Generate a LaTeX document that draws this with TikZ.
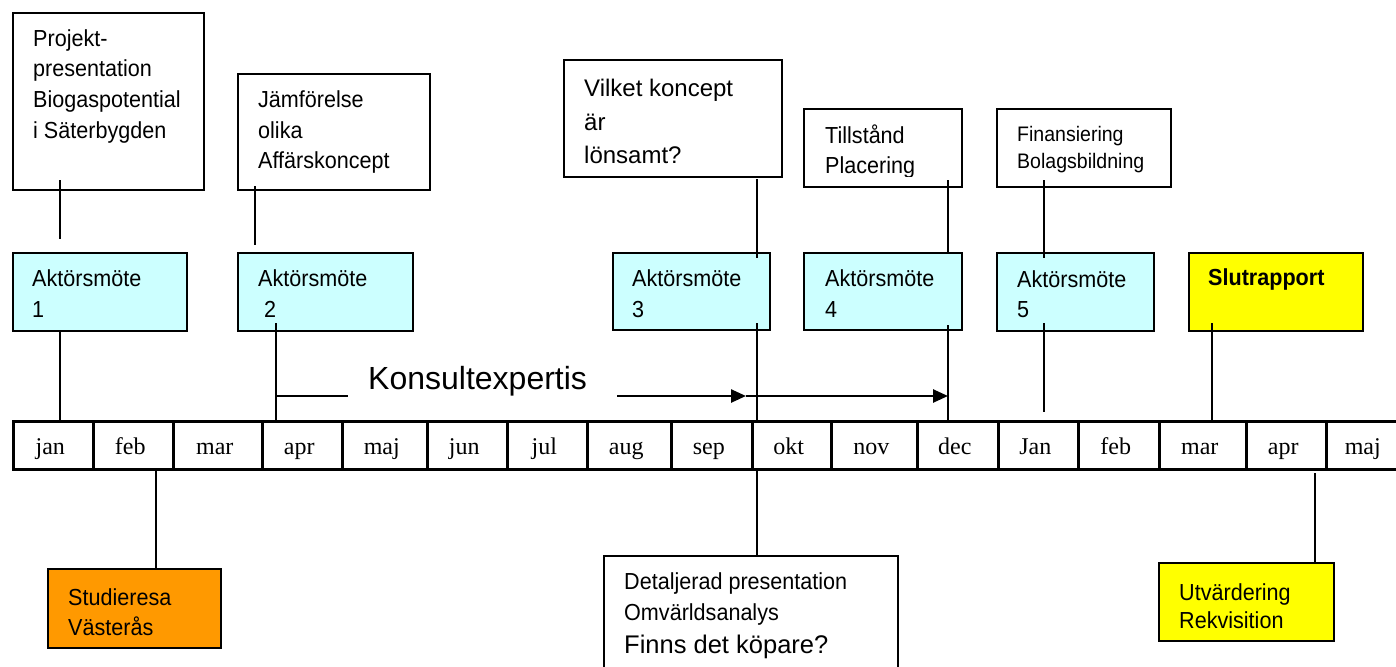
\documentclass[tikz,border=0pt]{standalone}
\usepackage{fontspec}
\usetikzlibrary{arrows.meta}
\newfontfamily\narrowsans[FakeStretch=0.93]{Liberation Sans}
\newfontfamily\plainsans{Liberation Sans}
\newfontfamily\rowserif{Liberation Serif}
\definecolor{meetcyan}{HTML}{CCFFFF}
\definecolor{triporange}{HTML}{FF9900}
\definecolor{reportyellow}{HTML}{FFFF00}

\begin{document}
\begin{tikzpicture}[x=1pt,y=-1pt,
  frame/.style={draw, line width=2pt, rectangle, inner sep=0pt, anchor=north west, fill=white},
  meet/.style={frame, fill=meetcyan},
  trip/.style={frame, fill=triporange},
  report/.style={frame, fill=reportyellow},
  lbl/.style={inner sep=0pt, anchor=base west, font=\narrowsans\fontsize{23.2}{28}\selectfont},
  lblsmall/.style={lbl, font=\narrowsans\fontsize{21}{26}\selectfont},
  lblbold/.style={lbl, font=\narrowsans\bfseries\fontsize{23.2}{28}\selectfont},
  lblbig/.style={inner sep=0pt, anchor=base west, font=\plainsans\fontsize{24}{30}\selectfont},
  lblq/.style={inner sep=0pt, anchor=base west, font=\plainsans\fontsize{25.5}{30}\selectfont},
  lblhuge/.style={inner sep=0pt, anchor=base west, font=\plainsans\fontsize{32}{38}\selectfont},
  cell/.style={draw, line width=2.5pt, rectangle, inner sep=0pt, anchor=north west,
    minimum height=48pt, text height=18pt, text depth=0pt,
    font=\rowserif\fontsize{24}{28}\selectfont},
  link/.style={line width=2pt},
  flow/.style={line width=2.5pt, -{Triangle[length=15pt,width=13pt]}},
]
\useasboundingbox (0,0) rectangle (1396,666);
\clip (0,0) rectangle (1396,666);

% ---- month row ----
\foreach \lab/\a/\b [count=\i] in {jan/12/92, feb/92/172, mar/172/261, apr/261/341,
    maj/341/426, jun/426/506, jul/506/586, aug/586/670, sep/670/751, okt/751/830,
    nov/830/916, dec/916/997, Jan/997/1077, feb/1077/1158, mar/1158/1245,
    apr/1245/1325, maj/1325/1404}{
  \pgfmathsetmacro\w{\b-\a}
  \node[cell, minimum width=\w pt] (m\i) at (\a,420) {\lab\kern6pt};
}

% ---- upper row: topics ----
\node[frame, minimum width=191pt, minimum height=177pt] (p1) at (12,12) {};
\node[lbl] (p1a) at (33,47) {Projekt-};
\node[lbl] (p1b) at (33,77) {presentation};
\node[lbl] (p1c) at (33,108) {Biogaspotential};
\node[lbl] (p1d) at (33,138) {i Säterbygden};

\node[frame, minimum width=192pt, minimum height=116pt] (p2) at (237,73) {};
\node[lbl] (p2a) at (258,107) {Jämförelse};
\node[lbl] (p2b) at (258,138) {olika};
\node[lbl] (p2c) at (258,168) {Affärskoncept};

\node[frame, minimum width=218pt, minimum height=117pt] (p3) at (563,59) {};
\node[lblbig] (p3a) at (584,97) {Vilket koncept};
\node[lblbig] (p3b) at (584,130) {är};
\node[lblbig] (p3c) at (584,163) {lönsamt?};

\node[frame, minimum width=158pt, minimum height=78pt] (p4) at (803,108) {};
\begin{scope}
  \clip (803,108) rectangle (961,176);
  \node[lbl] (p4a) at (825,143) {Tillstånd};
  \node[lbl] (p4b) at (825,173) {Placering};
\end{scope}

\node[frame, minimum width=174pt, minimum height=78pt] (p5) at (996,108) {};
\node[lblsmall] (p5a) at (1017,142) {Finansiering};
\node[lblsmall] (p5b) at (1017,168) {Bolagsbildning};

% ---- meetings ----
\node[meet, minimum width=174pt, minimum height=78pt] (a1) at (12,252) {};
\node[lbl] (a1a) at (32,286) {Aktörsmöte};
\node[lbl] (a1b) at (32,317) {1};

\node[meet, minimum width=175pt, minimum height=78pt] (a2) at (237,252) {};
\node[lbl] (a2a) at (258,286) {Aktörsmöte};
\node[lbl] (a2b) at (264,317) {2};

\node[meet, minimum width=157pt, minimum height=77pt] (a3) at (612,252) {};
\node[lbl] (a3a) at (632,286) {Aktörsmöte};
\node[lbl] (a3b) at (632,317) {3};

\node[meet, minimum width=158pt, minimum height=77pt] (a4) at (803,252) {};
\node[lbl] (a4a) at (825,286) {Aktörsmöte};
\node[lbl] (a4b) at (825,317) {4};

\node[meet, minimum width=157pt, minimum height=78pt] (a5) at (996,252) {};
\node[lbl] (a5a) at (1017,287) {Aktörsmöte};
\node[lbl] (a5b) at (1017,317) {5};

\node[report, minimum width=174pt, minimum height=78pt] (sr) at (1188,252) {};
\node[lblbold] (sra) at (1208,285) {Slutrapport};

% ---- lower row ----
\node[trip, minimum width=173pt, minimum height=79pt] (st) at (47,568) {};
\node[lbl] (sta) at (68,605) {Studieresa};
\node[lbl] (stb) at (68,635) {Västerås};

\node[frame, minimum width=294pt, minimum height=130pt] (de) at (603,555) {};
\node[lbl] (dea) at (624,589) {Detaljerad presentation};
\node[lbl] (deb) at (624,620) {Omvärldsanalys};
\node[lblq] (dec) at (624,653) {Finns det köpare?};

\node[report, minimum width=175pt, minimum height=78pt] (ut) at (1158,562) {};
\node[lbl] (uta) at (1179,600) {Utvärdering};
\node[lbl] (utb) at (1179,628) {Rekvisition};

% ---- consultant span ----
\node[lblhuge] (kx) at (368,389) {Konsultexpertis};

% ---- connectors ----
\coordinate (l1a) at (60,180);   \coordinate (l1b) at (60,239);
\draw[link] (l1a) -- (l1b);
\draw[link] (l1a |- a1.south) -- (l1a |- m1.north);

\coordinate (l2a) at (255,186);  \coordinate (l2b) at (255,245);
\draw[link] (l2a) -- (l2b);

\coordinate (l3a) at (276,323);  \coordinate (l3k) at (276,396);
\coordinate (l3e) at (348,396);
\draw[link] (l3a) -- (l3a |- m4.north);
\draw[link] (l3k) -- (l3e);

\coordinate (f1) at (617,396); \coordinate (f2) at (746,396); \coordinate (f3) at (948,396);
\draw[flow] (f1) -- (f2);
\draw[flow] (f2) -- (f3);

\coordinate (l4a) at (757,179);  \coordinate (l4b) at (757,258);
\coordinate (l4c) at (757,323);
\draw[link] (l4a) -- (l4b);
\draw[link] (l4c) -- (l4c |- m10.north);
\draw[link] (l4c |- m10.south) -- (l4c |- de.north);

\coordinate (l5a) at (948,180);  \coordinate (l5c) at (948,325);
\draw[link] (l5a) -- (l5a |- a4.north);
\draw[link] (l5c) -- (l5c |- m12.north);

\coordinate (l6a) at (1044,180); \coordinate (l6b) at (1044,258);
\coordinate (l6c) at (1044,323); \coordinate (l6d) at (1044,412);
\draw[link] (l6a) -- (l6b);
\draw[link] (l6c) -- (l6d);

\coordinate (l7a) at (1212,323);
\draw[link] (l7a) -- (l7a |- m15.north);

\coordinate (l8a) at (156,468);
\draw[link] (l8a) -- (l8a |- st.north);

\coordinate (l9a) at (1315,473);
\draw[link] (l9a) -- (l9a |- ut.north);
\end{tikzpicture}
\end{document}
